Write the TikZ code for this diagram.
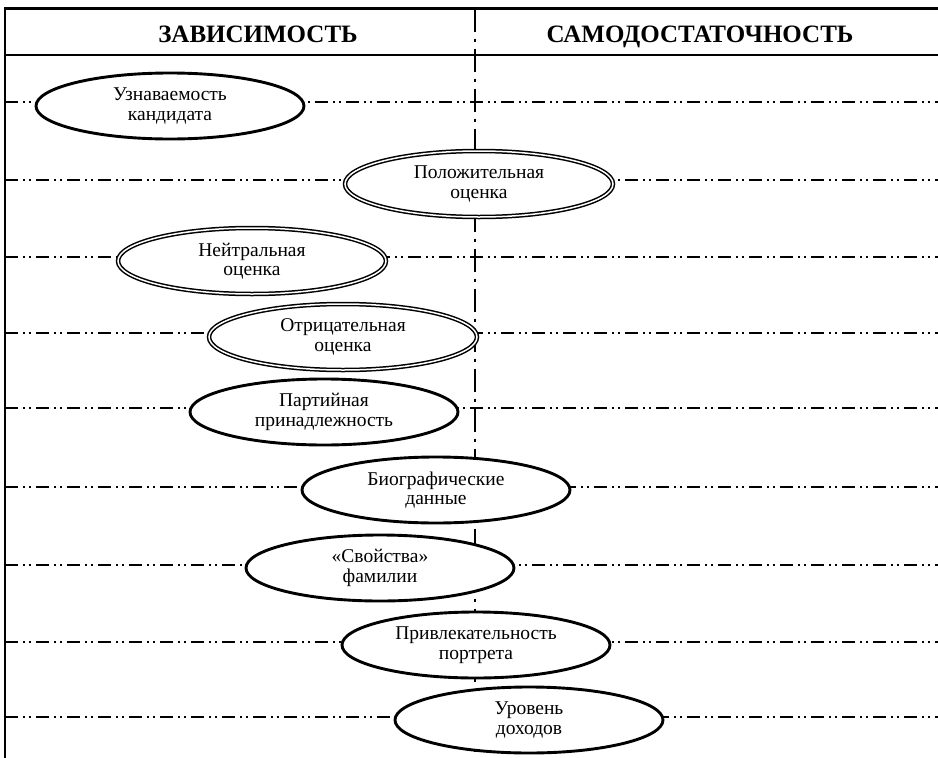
\documentclass[tikz,border=0pt]{standalone}
\usepackage{fontspec}
\setmainfont{Liberation Serif}
\usetikzlibrary{shapes.geometric}

\tikzset{
  border/.style={line width=2.8pt},
  divider/.style={line width=2.8pt, dash pattern=on 23pt off 7pt on 3pt off 7pt},
  level/.style={line width=1.5pt, dash pattern=on 13pt off 5pt on 2pt off 4pt on 2pt off 5pt},
  heading/.style={anchor=base, inner sep=0pt, font=\fontsize{25}{28}\selectfont\bfseries},
  factor/.style={ellipse, draw, fill=white, inner sep=0pt, align=center,
    minimum width=268pt, minimum height=66pt,
    font=\fontsize{19.5}{19.5}\selectfont},
  plainoval/.style={factor, line width=2.9pt},
  twinoval/.style={factor, double, line width=1.5pt, double distance=1.5pt}
}

\begin{document}
\begin{tikzpicture}[x=1pt, y=-1pt]
  \useasboundingbox (0,0) rectangle (938,758);

  % outer frame and header rule
  \coordinate (tl) at (5,8.5);
  \coordinate (tr) at (938,8.5);
  \coordinate (bl) at (5,758);
  \coordinate (hl) at (5,55);
  \coordinate (hr) at (938,55);
  \draw[border] (tr) -- (tl) -- (bl);
  \draw[border] (hl) -- (hr);

  % column headings
  \node[heading] (dep) at (258,42) {ЗАВИСИМОСТЬ};
  \node[heading] (self) at (700,42) {САМОДОСТАТОЧНОСТЬ};

  % boundary between the two columns
  \coordinate (dtop) at (475,8.5);
  \coordinate (dbot) at (475,758);
  \draw[divider] (dtop) -- (dbot);

  % horizontal scale lines, one per factor
  \foreach \i/\y in {1/102, 2/180, 3/257, 4/333, 5/408, 6/487, 7/565, 8/642, 9/717} {
    \coordinate (l\i) at (5,\y);
    \coordinate (r\i) at (938,\y);
    \draw[level] (l\i) -- (r\i);
  }

  % factors
  \node[plainoval] (f1) at (170,106) {Узнаваемость\\кандидата};
  \node[twinoval]  (f2) at (479,184) {Положительная\\оценка};
  \node[twinoval]  (f3) at (252,261) {Нейтральная\\оценка};
  \node[twinoval]  (f4) at (343,337) {Отрицательная\\оценка};
  \node[plainoval] (f5) at (324,412) {Партийная\\принадлежность};
  \node[plainoval] (f6) at (436,490) {Биографические\\данные};
  \node[plainoval] (f7) at (380,568) {«Свойства»\\фамилии};
  \node[plainoval] (f8) at (476,645) {Привлекательность\\портрета};
  \node[plainoval] (f9) at (529,720) {Уровень\\доходов};
\end{tikzpicture}
\end{document}
